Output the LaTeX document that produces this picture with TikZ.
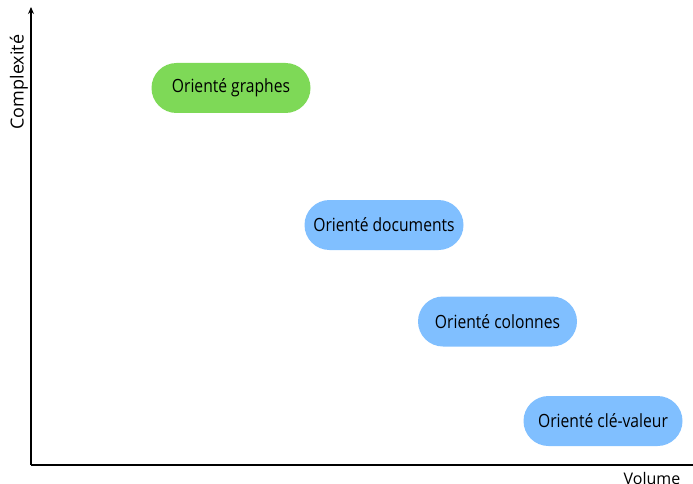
\documentclass[tikz,border=0pt]{standalone}
\usepackage{fontspec}
\usetikzlibrary{arrows.meta}
\setmainfont{Open Sans}
\newfontfamily\condfont[FakeStretch=0.86]{Open Sans}
\definecolor{pillgreen}{HTML}{7ED957}
\definecolor{pillblue}{HTML}{80BFFF}
\begin{document}
\begin{tikzpicture}[x=1pt,y=-1pt,
  pill/.style={rounded corners=25pt, minimum width=159pt, minimum height=50pt, inner sep=0pt, font=\condfont\fontsize{18.2}{21}\selectfont, text=black},
  axis/.style={line width=1.6pt, black},
  axlabel/.style={inner sep=0pt}]
\useasboundingbox (0,0) rectangle (693,484);
\coordinate (O) at (31,465);
\coordinate (Ytop) at (31,7);
\coordinate (Xend) at (693,465);
\draw[axis,-{Stealth[length=7pt,width=6pt]}] (O) -- (Ytop);
\draw[axis] (O) -- (Xend);
\node[axlabel, rotate=90, font=\fontsize{18}{21}\selectfont] (ylab) at (19,82) {Complexité};
\node[axlabel, font=\fontsize{16}{19}\selectfont] (xlab) at (652,478) {Volume};
\node[pill, fill=pillgreen] (g) at (231,88) {Orienté graphes};
\node[pill, fill=pillblue] (d) at (384,225) {Orienté documents};
\node[pill, fill=pillblue] (c) at (497.5,321.5) {Orienté colonnes};
\node[pill, fill=pillblue] (k) at (603,421) {Orienté clé-valeur};
\end{tikzpicture}
\end{document}
